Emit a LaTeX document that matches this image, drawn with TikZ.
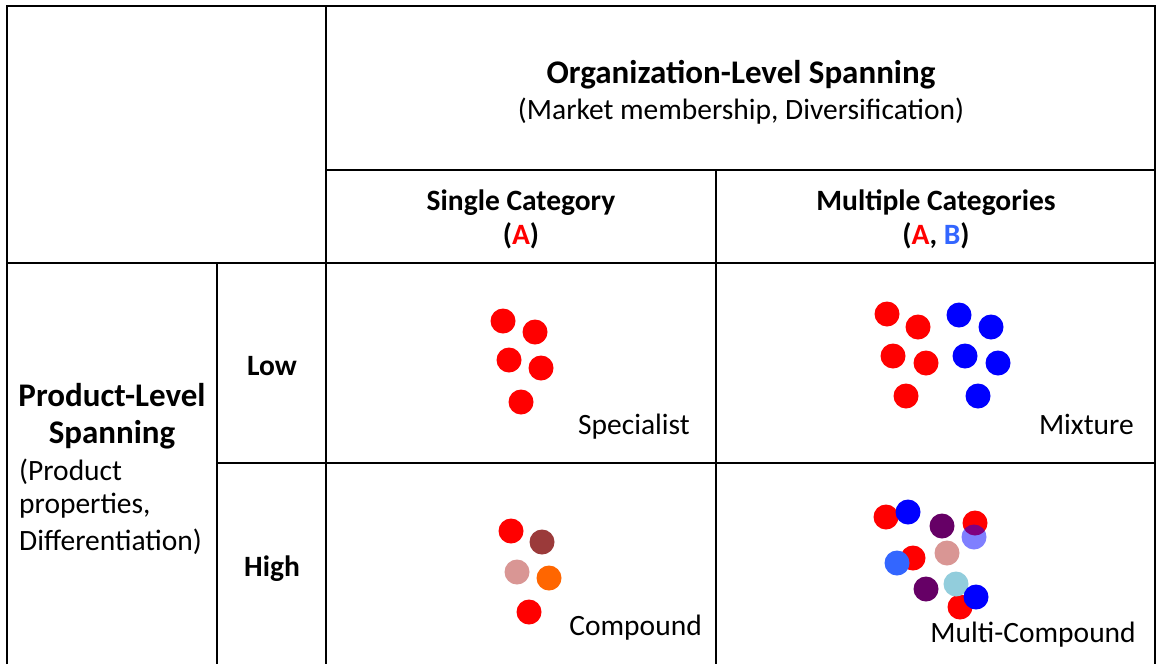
\documentclass[tikz,border=0pt]{standalone}
\usepackage{fontspec}
\setmainfont{Carlito}
\definecolor{catA}{HTML}{FF0000}
\definecolor{catB}{HTML}{0000FF}
\definecolor{catBlt}{HTML}{3366FF}
\definecolor{brownred}{HTML}{9B3A3A}
\definecolor{rose}{HTML}{D99694}
\definecolor{orng}{HTML}{FF6600}
\definecolor{plum}{HTML}{660066}
\definecolor{skyb}{HTML}{92CDDC}
\begin{document}
\begin{tikzpicture}[x=1pt,y=-1pt,
  grid/.style={line width=2pt,black},
  txt/.style={inner sep=0pt,font=\fontsize{29.5}{35}\selectfont},
  bold/.style={txt,font=\fontsize{29.5}{35}\selectfont\bfseries},
  head/.style={txt,font=\fontsize{33}{40}\selectfont\bfseries},
  dot/.style={circle,fill=#1,inner sep=0pt,minimum size=25pt}]
\useasboundingbox (0,0) rectangle (1158,664);
\fill[white] (0,0) rectangle (1158,664);
% table rules
\draw[grid] (7,664) -- (7,6) -- (1155,6) -- (1155,664);
\draw[grid] (326,6) -- (326,664);
\draw[grid] (716,170) -- (716,664);
\draw[grid] (217,263) -- (217,664);
\draw[grid] (326,170) -- (1155,170);
\draw[grid] (7,263) -- (1155,263);
\draw[grid] (217,463) -- (1155,463);
% column headings
\node[head] (org) at (741,75) {Organization-Level Spanning};
\node[txt] (orgsub) at (741,111) {(Market membership, Diversification)};
\node[bold] (single) at (521,203) {Single Category};
\node[bold] (singleA) at (521,236) {(\textcolor{catA}{A})};
\node[bold] (multi) at (936,203) {Multiple Categories};
\node[bold] (multiAB) at (936,236) {(\textcolor{catA}{A}, \textcolor{catBlt}{B})};
% row headings
\node[bold] (low) at (272,366) {Low};
\node[bold] (high) at (272,569) {High};
\node[head] (prod1) at (112,395) {Product-Level};
\node[head] (prod2) at (112,435) {Spanning};
\node[txt,anchor=west] (prod3) at (19,472) {(Product};
\node[txt,anchor=west] (prod4) at (19,506) {properties,};
\node[txt,anchor=west] (prod5) at (19,542) {Differentiation)};
% cell labels
\node[txt,anchor=east] (spec) at (690,427) {Specialist};
\node[txt,anchor=east] (mix) at (1134,424) {Mixture};
\node[txt,anchor=east] (comp) at (702,628) {Compound};
\node[txt,anchor=east] (mcomp) at (1136,635) {Multi-Compound};
% specialist
\foreach \p [count=\i] in {(503,321),(535,332),(509,360),(541,368),(521,402)}
  \node[dot=catA] (s\i) at \p {};
% mixture
\foreach \p [count=\i] in {(887,314),(918,327),(893,356),(926,363),(906,396)}
  \node[dot=catA] (mr\i) at \p {};
\foreach \p [count=\i] in {(959,315),(991,327),(965,356),(998,363),(978,396)}
  \node[dot=catB] (mb\i) at \p {};
% compound
\node[dot=catA] (c1) at (511,531) {};
\node[dot=brownred] (c2) at (542,542) {};
\node[dot=rose] (c3) at (517,572) {};
\node[dot=orng] (c4) at (549,578) {};
\node[dot=catA] (c5) at (529,612) {};
% multi-compound
\node[dot=catA] (k1) at (886,517) {};
\node[dot=catB] (k2) at (908,512) {};
\node[dot=plum] (k3) at (942,526) {};
\node[dot=catA] (k4) at (975,523) {};
\node[dot=catB,fill opacity=0.5] (k5) at (974,537) {};
\node[dot=catA] (k6) at (913,558) {};
\node[dot=catBlt] (k7) at (897,563) {};
\node[dot=rose] (k8) at (947,553) {};
\node[dot=plum] (k9) at (926,589) {};
\node[dot=catA] (k10) at (960,607) {};
\node[dot=skyb] (k11) at (956,584) {};
\node[dot=catB] (k12) at (976,597) {};
\end{tikzpicture}
\end{document}
